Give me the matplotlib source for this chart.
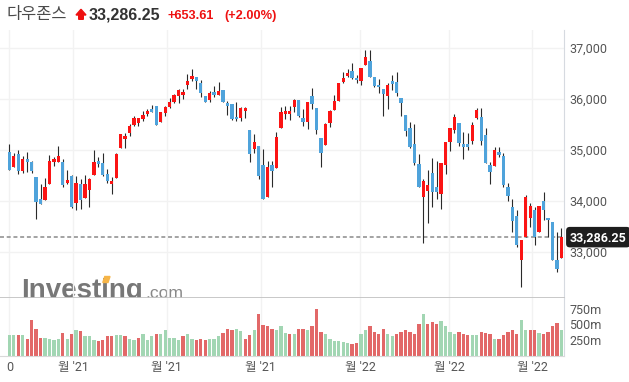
import matplotlib
matplotlib.use("Agg")
import matplotlib.pyplot as plt
from matplotlib.patches import Polygon
from matplotlib.ticker import FuncFormatter
import numpy as np

plt.rcParams['font.family'] = ['Roboto', 'Noto Sans CJK KR', 'DejaVu Sans']

# Dow Jones daily candles
opens = [34960, 34672, 34921, 34593, 34823, 34764, 34469, 34030, 34024, 34325,
         34770, 34757, 34764, 34358, 34489, 33951, 34331, 34050, 34220, 34515,
         34783, 34751, 34528, 34338, 34456, 35045, 35222, 35340, 35497, 35537,
         35609, 35713, 35805, 35864, 35556, 35720, 35844, 35949, 36061, 36087,
         36270, 36395, 36434, 36316, 36067, 35982, 36146, 36087, 36178, 35930,
         35903, 35648, 35635, 35772, 35392, 35019, 35078, 34705, 34082, 34698,
         34652, 35438, 35713, 35713, 35851, 35982, 35622, 35556, 36061, 35825,
         35235, 35091, 35523, 35792, 35969, 36329, 36447, 36545, 36414, 36349,
         36663, 36742, 36434, 36283, 36192, 36067, 36362, 36336, 36015, 35687,
         35431, 35117, 34724, 34082, 34194, 34541, 34266, 34141, 34711, 35163,
         35399, 35523, 35117, 35117, 35183, 35635, 35640, 35288, 34705, 34692,
         34960, 34882, 34279, 33873, 33703, 32838, 33297, 33657, 33820, 33395,
         33991, 33663, 33591, 32838, 32871]
highs = [35111, 34947, 34993, 34888, 34954, 34790, 34469, 34325, 34443, 34895,
         34868, 35072, 34816, 34600, 34508, 34495, 34423, 34502, 34449, 34999,
         34855, 34947, 34620, 34462, 34934, 35320, 35340, 35510, 35674, 35628,
         35772, 35799, 35890, 35864, 35753, 35864, 36015, 36100, 36198, 36198,
         36499, 36585, 36434, 36375, 36067, 36159, 36251, 36329, 36178, 35956,
         35903, 35936, 35851, 35851, 35392, 35307, 35078, 35013, 34777, 34777,
         35360, 35851, 35858, 35871, 35995, 35982, 35799, 35949, 36211, 35825,
         35235, 35523, 35785, 36074, 36323, 36532, 36585, 36702, 36473, 36611,
         36964, 36964, 36434, 36401, 36205, 36310, 36467, 36526, 36021, 35690,
         35556, 35504, 34914, 34423, 34606, 34836, 34783, 34751, 35163, 35438,
         35707, 35537, 35347, 35340, 35556, 35831, 35824, 35438, 34764, 35052,
         35052, 34934, 34344, 34030, 33820, 33231, 34115, 33951, 33886, 33899,
         34181, 33663, 33591, 33395, 33460]
lows = [34613, 34659, 34521, 34541, 34561, 34541, 33637, 33932, 34024, 34325,
        34679, 34757, 34272, 34325, 33853, 33820, 33834, 34050, 33879, 34515,
        34672, 34495, 34344, 34128, 34456, 35045, 35045, 35281, 35478, 35465,
        35563, 35668, 35753, 35497, 35556, 35668, 35818, 35916, 35916, 36008,
        36205, 36349, 36198, 36034, 35936, 35949, 36047, 36087, 35936, 35681,
        35589, 35576, 35563, 35622, 34770, 34934, 34436, 34030, 34082, 34279,
        34652, 35438, 35615, 35589, 35753, 35641, 35478, 35406, 35805, 35307,
        34672, 35091, 35458, 35792, 35969, 36323, 36434, 36388, 36323, 36270,
        36663, 36427, 36231, 36126, 35668, 35798, 36179, 36067, 35660, 35281,
        35032, 34698, 34279, 33165, 33558, 33886, 34030, 33840, 34528, 34986,
        35327, 35085, 34816, 34999, 35111, 35615, 35100, 34751, 34325, 34692,
        34868, 34279, 34004, 33382, 33100, 32307, 33297, 33493, 33133, 33395,
        33624, 33297, 32838, 32609, 32871]
closes = [34613, 34882, 34593, 34823, 34770, 34593, 33984, 33932, 34272, 34783,
          34823, 34882, 34318, 34410, 33873, 34344, 34024, 34331, 34423, 34764,
          34731, 34515, 34397, 34397, 34921, 35307, 35275, 35471, 35628, 35628,
          35681, 35766, 35753, 35497, 35740, 35844, 35949, 36080, 36178, 36146,
          36355, 36460, 36349, 36113, 35936, 36113, 36087, 36159, 35949, 35871,
          35615, 35602, 35825, 35825, 34914, 35150, 34495, 34043, 34665, 34593,
          35255, 35746, 35766, 35766, 35982, 35668, 35556, 35943, 35903, 35386,
          34947, 35510, 35766, 35962, 36309, 36408, 36513, 36421, 36368, 36604,
          36820, 36427, 36257, 36231, 36093, 36277, 36297, 36127, 35930, 35379,
          35052, 34737, 34279, 34390, 34312, 34181, 34181, 34744, 35150, 35425,
          35641, 35130, 35065, 35065, 35491, 35785, 35180, 34751, 34574, 34999,
          34895, 34312, 34102, 33611, 33133, 33231, 34083, 33899, 33297, 33899,
          33820, 33624, 32838, 32654, 33286.25]

# volume in millions, g = close above previous close, r = below
volumes = [327, 327, 327, 327, 274, 564, 432, 290, 290, 274,
           248, 274, 369, 274, 343, 416, 390, 311, 311, 258,
           232, 248, 311, 311, 327, 327, 311, 274, 258, 290,
           343, 258, 311, 353, 343, 406, 290, 290, 258, 311,
           353, 274, 248, 274, 258, 274, 274, 311, 364, 422,
           406, 422, 395, 274, 327, 406, 669, 485, 474, 432,
           406, 469, 369, 343, 353, 432, 432, 416, 469, 748,
           379, 343, 274, 237, 237, 221, 211, 195, 211, 343,
           416, 469, 379, 353, 432, 353, 311, 343, 379, 416,
           379, 353, 511, 669, 511, 543, 511, 553, 469, 379,
           353, 379, 343, 327, 327, 327, 379, 364, 343, 274,
           274, 327, 379, 406, 353, 564, 406, 406, 416, 364,
           343, 379, 469, 527, 406]
vol_dir = ("ggrgrrrrgg" "ggrgrgrggg" "rrrrggrggr" "gggrgggggr" "ggrrrgggrr"
           "rggrrgrrrr" "gggrgrrgrr" "rggggggrrg" "grrrrggrrr" "rrrgrrrggg"
           "grrrggrrrg" "rrrrrggrrg" "rrrrg")

month_pos = [0, 14.3, 35.4, 56.5, 78.8, 98.8, 117.5]
month_labels = ["0", "월 '21", "월 '21", "월 '21", "월 '22", "월 '22", "월 '22"]
price_ticks = [33000, 34000, 35000, 36000, 37000]
vol_ticks = [250, 500, 750]

name = "다우존스"
change = 653.61
change_pct = 2.00

UP = '#fb1414'
DOWN = '#4fa3db'
GRID = '#f2f2f2'
EDGE = '#d6dae0'
TXT = '#555555'

W, H = 629, 382
fig = plt.figure(figsize=(W / 100, H / 100), dpi=100)


def fx(px):
    return px / W


def fy(py):
    return 1 - py / H


ax = fig.add_axes([0, fy(298), fx(564), (298 - 30) / H])
axv = fig.add_axes([0, fy(356), fx(564), (356 - 298) / H], sharex=ax)

x = np.arange(len(closes))
o = np.array(opens)
c = np.array(closes)
up = c >= o

# --- price panel ---
ax.vlines(x, lows, highs, color='#2a2a2a', lw=0.8, zorder=2)
body_lo = np.minimum(o, c)
body_h = np.maximum(np.abs(c - o), 18)
ax.bar(x, body_h, bottom=body_lo, width=0.74,
       color=np.where(up, UP, DOWN), zorder=3)

ax.axhline(closes[-1], color='#8a8a8a', lw=1.1, ls=(0, (2.6, 1.8)), zorder=1)

ax.set_xlim(-2.1, 124.6)
ax.set_ylim(32090, 37358)
ax.set_yticks(price_ticks)
ax.yaxis.set_major_formatter(FuncFormatter(lambda v, p: f"{v:,.0f}"))
ax.yaxis.tick_right()
ax.set_xticks(month_pos)
ax.tick_params(axis='x', length=0, labelbottom=False)
ax.tick_params(axis='y', length=0, pad=4, labelsize=9, labelcolor=TXT)
ax.grid(True, color=GRID, lw=1)
ax.set_axisbelow(True)
for s in ['top', 'left']:
    ax.spines[s].set_visible(False)
ax.spines['right'].set_color(EDGE)
ax.spines['bottom'].set_color('#c4c4c4')
ax.spines['bottom'].set_linewidth(1.3)

# last price tag
ax.annotate(f"{closes[-1]:,.2f}", xy=(1, closes[-1]),
            xycoords=('axes fraction', 'data'), xytext=(4.2, 0),
            textcoords='offset points', ha='left', va='center',
            color='white', fontsize=9, fontweight='bold', annotation_clip=False,
            bbox=dict(boxstyle='round,pad=0.3', fc='#1e1e1e', ec='none'))

# watermark (Investing.com logo, orange dot on the i)
ax.text(21.5 / 564, (298 - 298.5) / 268, "Investing", transform=ax.transAxes,
        family=['Liberation Sans'], fontweight='bold', fontsize=20,
        color='#777777', va='baseline', ha='left', zorder=0, clip_on=True)
ax.text(145 / 564, (298 - 298.5) / 268, ".com", transform=ax.transAxes,
        family=['Liberation Sans'], fontsize=12.6, color='#888888',
        va='baseline', ha='left', zorder=0, clip_on=True)
fig.patches.append(Polygon([(fx(102.8), fy(282.5)), (fx(104.8), fy(276.5)),
                            (fx(110), fy(276.5)), (fx(108), fy(282.5))],
                           closed=True, color='#f6b548', transform=fig.transFigure,
                           zorder=0.5))

# --- volume panel ---
axv.bar(x, volumes, width=0.74,
        color=['#a2d6b3' if d == 'g' else '#e26868' for d in vol_dir])
axv.set_ylim(0, 918)
axv.set_yticks(vol_ticks)
axv.yaxis.set_major_formatter(FuncFormatter(lambda v, p: f"{v:.0f}m"))
axv.yaxis.tick_right()
axv.set_xticks(month_pos)
axv.set_xticklabels(month_labels)
axv.tick_params(axis='x', length=0, pad=3.5, labelsize=9, labelcolor=TXT)
axv.tick_params(axis='y', length=0, pad=4, labelsize=9, labelcolor=TXT)
axv.grid(True, axis='x', color=GRID, lw=1)
axv.set_axisbelow(True)
for s in ['top', 'left']:
    axv.spines[s].set_visible(False)
axv.spines['right'].set_color(EDGE)
axv.spines['bottom'].set_color('#d9d9d9')

# --- header ---
fig.text(fx(7), fy(19.5), name, family=['Noto Sans CJK KR'], fontsize=11.8,
         color='#4a4a4a', va='baseline')
fig.patches.append(Polygon([(fx(76), fy(15)), (fx(81), fy(9.3)), (fx(86), fy(15)),
                            (fx(83.3), fy(15)), (fx(83.3), fy(19.3)),
                            (fx(78.7), fy(19.3)), (fx(78.7), fy(15))],
                           closed=True, color='#ee1111', transform=fig.transFigure))
fig.text(fx(89), fy(19.3), f"{closes[-1]:,.2f}", family=['Liberation Sans'],
         fontweight='bold', fontsize=11.5, color='#333333', va='baseline')
fig.text(fx(167), fy(19.3), f"+{change:,.2f}", family=['Liberation Sans'],
         fontweight='bold', fontsize=9.2, color='#ee1111', va='baseline')
fig.text(fx(224), fy(19.3), f"(+{change_pct:.2f}%)", family=['Liberation Sans'],
         fontweight='bold', fontsize=9.2, color='#ee1111', va='baseline')

fig.savefig("out.png", dpi=100)
